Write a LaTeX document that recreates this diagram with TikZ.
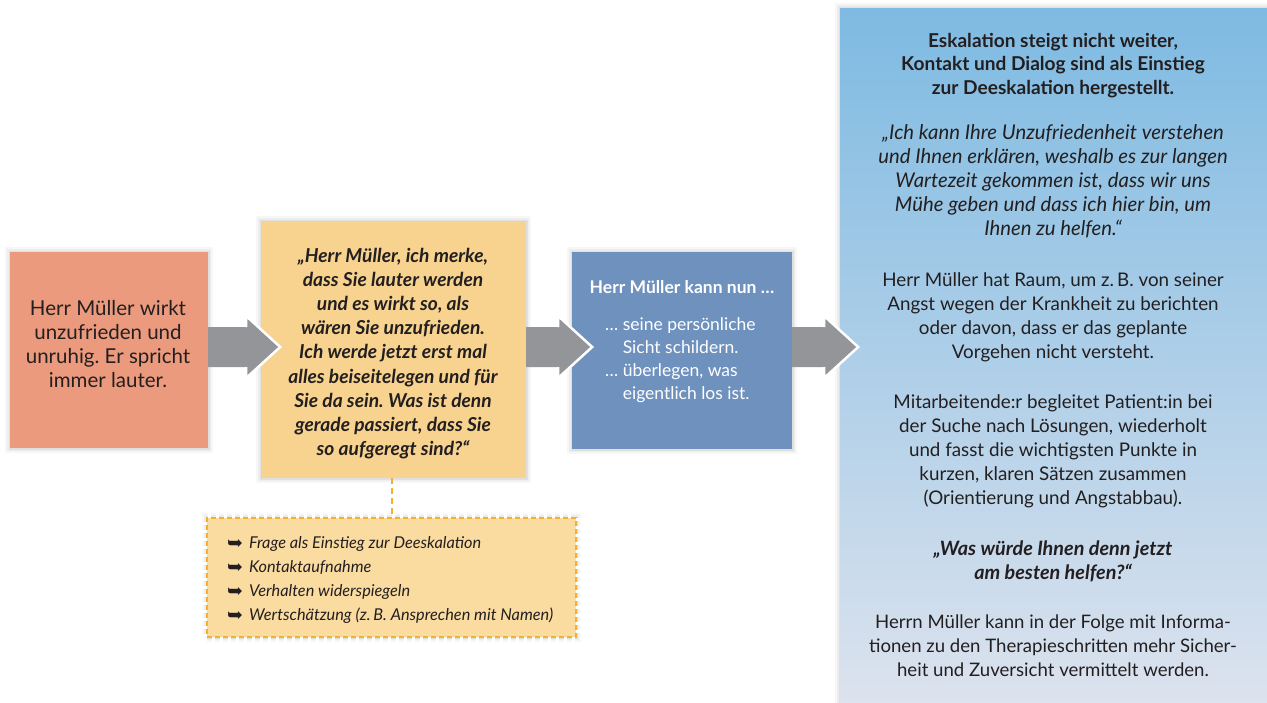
\documentclass[tikz,border=0pt]{standalone}
\usepackage{fontspec}
\setmainfont{Lato}
\newfontfamily\symfont{DejaVu Sans}
\usetikzlibrary{calc}
\definecolor{txt}{HTML}{231F20}
\definecolor{redbox}{HTML}{EC9A7D}
\definecolor{yelbox}{HTML}{F7D38F}
\definecolor{bluebox}{HTML}{6E91BE}
\definecolor{paneltop}{HTML}{7EBAE2}
\definecolor{panelbot}{HTML}{DDE3EE}
\definecolor{notefill}{HTML}{FADBA0}
\definecolor{notedraw}{HTML}{F2B128}
\definecolor{arrowgray}{HTML}{939598}
\tikzset{
  halo/.style={preaction={draw=black,draw opacity=0.03,line width=10pt},
               preaction={draw=black,draw opacity=0.04,line width=6pt},
               preaction={draw=black,draw opacity=0.05,line width=3pt}},
  card/.style={rectangle,inner sep=0pt,halo},
  txtnode/.style={text=txt,align=center,inner sep=0pt,font=\fontsize{18.8}{24}\selectfont},
  blockarrow/.style={fill=arrowgray},
  arrowrim/.style={draw=white,line width=2.5pt,line join=miter},
}
\newcommand{\arr}{\makebox[22pt][l]{\raisebox{-0.5pt}{\symfont\fontsize{19}{19}\selectfont ➥}}}
\frenchspacing
\begin{document}
\begin{tikzpicture}[x=1pt,y=-1pt]
\useasboundingbox[fill=white] (0,0) rectangle (1267,702);

% panel
\node[card,minimum width=427pt,minimum height=700pt,anchor=north west,
      top color=paneltop,bottom color=panelbot] (panel) at (840,8) {};

% boxes
\node[card,fill=redbox,minimum width=198pt,minimum height=196pt] (red) at (109,350) {};
\node[card,fill=yelbox,minimum width=265pt,minimum height=257pt] (yel) at (393.5,349.5) {};
\node[card,fill=bluebox,minimum width=220pt,minimum height=197pt] (blue) at (682,350.5) {};
\node[card,fill=notefill,draw=notedraw,line width=1.6pt,dash pattern=on 5pt off 3pt,
      minimum width=369pt,minimum height=119pt] (note) at (391.5,577.5) {};

% dashed connector
\draw[draw=notedraw,line width=2pt,dash pattern=on 6pt off 4pt] (yel.south -| note.north) -- (note.north);

% block arrows
\foreach \s/\hb in {red/38, yel/32, blue/32}{
  \coordinate (A) at ($(\s.east |- 0,347)$);
  \coordinate (H) at ($(A)+(\hb,0)$);
  \coordinate (T) at ($(H)+(34,0)$);
  \fill[blockarrow] ($(A)+(0,-20)$) -- ($(H)+(0,-20)$) -- ($(H)+(0,-31)$) -- (T)
     -- ($(H)+(0,31)$) -- ($(H)+(0,20)$) -- ($(A)+(0,20)$) -- cycle;
  \draw[arrowrim] ($(H)+(0,-20)$) -- ($(H)+(0,-31)$) -- (T) -- ($(H)+(0,31)$) -- ($(H)+(0,20)$);
}

% texts
\node[txtnode,font=\fontsize{20.5}{23.8}\selectfont] (redtxt) at (108,344) {Herr Müller wirkt\\unzufrieden und\\unruhig. Er spricht\\immer lauter.};

\node[txtnode,font=\fontsize{19.2}{24.1}\selectfont\bfseries\itshape] (yeltxt) at (393,353.5)
 {„Herr Müller, ich merke,\\dass Sie lauter werden\\und es wirkt so, als\\wären Sie unzufrieden.\\Ich werde jetzt erst mal\\alles beiseitelegen und für\\Sie da sein. Was ist denn\\gerade passiert, dass Sie\\so aufgeregt sind?“};

\node[txtnode,text=white,font=\fontsize{17.5}{23}\selectfont\bfseries] (bluehead) at (682,287) {Herr Müller kann nun …};
\node[txtnode,text=white,align=left,anchor=west,font=\fontsize{17.5}{23}\selectfont] (bluetxt) at (605,360)
 {… seine persönliche\\\phantom{… }Sicht schildern.\\… überlegen, was\\\phantom{… }eigentlich los ist.};

\node[txtnode,align=left,anchor=west,font=\fontsize{16.3}{24}\selectfont\itshape] (notetxt) at (227,580)
 {\arr Frage als Einstieg zur Deeskalation\\\arr Kontaktaufnahme\\\arr Verhalten widerspiegeln\\\arr Wertschätzung (z.\,B. Ansprechen mit Namen)};

\node[txtnode,font=\fontsize{19.1}{23.5}\selectfont\bfseries] (p1) at (1053,65.5)
 {Eskalation steigt nicht weiter,\\Kontakt und Dialog sind als Einstieg\\zur Deeskalation hergestellt.};
\node[txtnode,font=\fontsize{20.3}{24}\selectfont\itshape] (p2) at (1053,181)
 {„Ich kann Ihre Unzufriedenheit verstehen\\und Ihnen erklären, weshalb es zur langen\\Wartezeit gekommen ist, dass wir uns\\Mühe geben und dass ich hier bin, um\\Ihnen zu helfen.“};
\node[txtnode] (p3) at (1053,317)
 {Herr Müller hat Raum, um z.\,B. von seiner\\Angst wegen der Krankheit zu berichten\\oder davon, dass er das geplante\\Vorgehen nicht versteht.};
\node[txtnode] (p4) at (1053,451)
 {Mitarbeitende:r begleitet Patient:in bei\\der Suche nach Lösungen, wiederholt\\und fasst die wichtigsten Punkte in\\kurzen, klaren Sätzen zusammen\\(Orientierung und Angstabbau).};
\node[txtnode,font=\fontsize{19.8}{23.5}\selectfont\bfseries\itshape] (p5) at (1053,561.5)
 {„Was würde Ihnen denn jetzt\\am besten helfen?“};
\node[txtnode,font=\fontsize{18.6}{24}\selectfont] (p6) at (1053,646)
 {Herrn Müller kann in der Folge mit Informa-\\tionen zu den Therapieschritten mehr Sicher-\\heit und Zuversicht vermittelt werden.};
\end{tikzpicture}
\end{document}
